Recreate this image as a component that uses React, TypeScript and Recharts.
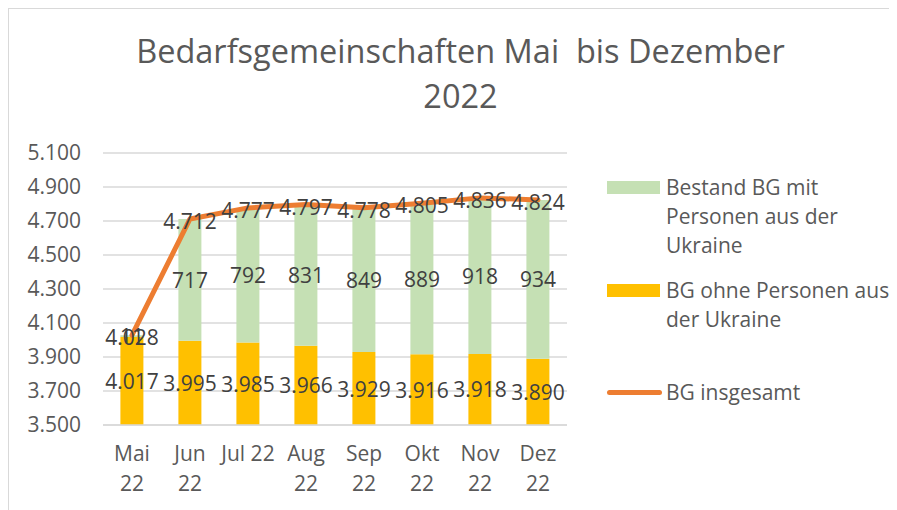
import React from "react";
import {
  ComposedChart,
  Bar,
  Line,
  XAxis,
  YAxis,
  CartesianGrid,
  LabelList,
} from "recharts";

const categories = ["Mai 22", "Jun 22", "Jul 22", "Aug 22", "Sep 22", "Okt 22", "Nov 22", "Dez 22"];
const categoryLabelLines = [["Mai", "22"], ["Jun", "22"], ["Jul 22"], ["Aug", "22"], ["Sep", "22"], ["Okt", "22"], ["Nov", "22"], ["Dez", "22"]];
const ohneUkraine = [4017, 3995, 3985, 3966, 3929, 3916, 3918, 3890];
const mitUkraine = [11, 717, 792, 831, 849, 889, 918, 934];
const insgesamt = [4028, 4712, 4777, 4797, 4778, 4805, 4836, 4824];
const yTicks = [3500, 3700, 3900, 4100, 4300, 4500, 4700, 4900, 5100];

const titleLines = ["Bedarfsgemeinschaften Mai  bis Dezember", "2022"];
const seriesNames = {
  mit: "Bestand BG mit Personen aus der Ukraine",
  ohne: "BG ohne Personen aus der Ukraine",
  total: "BG insgesamt",
};

const data = categories.map((c, i) => ({
  cat: c,
  ohne: ohneUkraine[i],
  mit: mitUkraine[i],
  total: insgesamt[i],
}));

const FONT = "'Open Sans', 'Noto Sans', sans-serif";
const GREEN = "#C5E0B4";
const YELLOW = "#FFC000";
const ORANGE = "#ED7D31";
const GRID = "#D9D9D9";
const TICK = "#595959";
const LABEL = "#404040";
const FS = 21;

const W = 888;
const H = 502;
const MARGIN = { top: 144, right: 330, bottom: 26, left: 0 };
const X_AXIS_H = 60;
const PLOT_BOTTOM = H - MARGIN.bottom - X_AXIS_H;

const fmt = (v: number) => {
  const n = Math.round(v);
  if (n < 1000) return String(n);
  return Math.floor(n / 1000) + "." + String(n % 1000).padStart(3, "0");
};

const XTick = (props: any) => {
  const { x, y, payload, index } = props;
  const lines = categoryLabelLines[index] || [payload.value];
  return (
    <g>
      {lines.map((l: string, k: number) => (
        <text
          key={k}
          x={x}
          y={y + 22 + k * 30}
          textAnchor="middle"
          dominantBaseline="middle"
          fill={TICK}
          fontSize={FS}
          fontFamily={FONT}
        >
          {l}
        </text>
      ))}
    </g>
  );
};

const BarCenterLabel = (props: any) => {
  const { x, y, width, height, value } = props;
  const top = Math.min(y, y + height);
  const bottom = Math.min(Math.max(y, y + height), PLOT_BOTTOM);
  return (
    <text
      x={x + width / 2}
      y={(top + bottom) / 2}
      textAnchor="middle"
      dominantBaseline="central"
      fill={LABEL}
      fontSize={FS}
      fontFamily={FONT}
    >
      {fmt(value)}
    </text>
  );
};

const PointLabel = (props: any) => {
  const { x, y, value } = props;
  return (
    <text
      x={x}
      y={y + 2}
      textAnchor="middle"
      dominantBaseline="central"
      fill={LABEL}
      fontSize={FS}
      fontFamily={FONT}
    >
      {fmt(value)}
    </text>
  );
};

const legendItems = [
  { key: "mit", lines: ["Bestand BG mit", "Personen aus der", "Ukraine"], type: "rect", color: GREEN, center: 178 },
  { key: "ohne", lines: ["BG ohne Personen aus", "der Ukraine"], type: "rect", color: YELLOW, center: 281 },
  { key: "total", lines: ["BG insgesamt"], type: "line", color: ORANGE, center: 383 },
];

export default function App() {
  return (
    <div
      style={{
        position: "relative",
        width: W,
        height: H,
        borderTop: `1px solid ${GRID}`,
        borderLeft: `1px solid ${GRID}`,
        fontFamily: FONT,
        background: "#fff",
      }}
    >
      <div
        style={{
          position: "absolute",
          left: 0,
          top: 19,
          width: 903,
          textAlign: "center",
          color: TICK,
          fontSize: 32.5,
          lineHeight: "45px",
          whiteSpace: "pre",
        }}
      >
        {titleLines.map((t, i) => (
          <div key={i}>{t}</div>
        ))}
      </div>
      <ComposedChart width={W} height={H} data={data} margin={MARGIN} barCategoryGap="30%">
        <CartesianGrid vertical={false} stroke={GRID} strokeWidth={1.3} />
        <XAxis
          dataKey="cat"
          height={X_AXIS_H}
          axisLine={{ stroke: GRID, strokeWidth: 1.3 }}
          tickLine={false}
          tick={<XTick />}
          interval={0}
        />
        <YAxis
          width={94}
          domain={[3500, 5100]}
          ticks={yTicks}
          allowDataOverflow
          axisLine={false}
          tickLine={false}
          tickMargin={16}
          tickFormatter={fmt}
          tick={{ fill: TICK, fontSize: FS, fontFamily: FONT }}
        />
        <Bar dataKey="ohne" name={seriesNames.ohne} stackId="a" fill={YELLOW} isAnimationActive={false}>
          <LabelList dataKey="ohne" content={<BarCenterLabel />} />
        </Bar>
        <Bar dataKey="mit" name={seriesNames.mit} stackId="a" fill={GREEN} isAnimationActive={false}>
          <LabelList dataKey="mit" content={<BarCenterLabel />} />
        </Bar>
        <Line
          dataKey="total"
          name={seriesNames.total}
          stroke={ORANGE}
          strokeWidth={5}
          dot={false}
          strokeLinejoin="round"
          strokeLinecap="round"
          isAnimationActive={false}
        >
          <LabelList dataKey="total" content={<PointLabel />} />
        </Line>
      </ComposedChart>
      {legendItems.map((it) => (
        <div
          key={it.key}
          style={{
            position: "absolute",
            left: 598,
            top: it.center - 14.5,
            display: "flex",
            alignItems: "flex-start",
          }}
        >
          <div style={{ width: 55, height: 29, position: "relative", flex: "none" }}>
            {it.type === "rect" ? (
              <div style={{ position: "absolute", left: 0, top: 8, width: 53, height: 13, background: it.color }} />
            ) : (
              <div
                style={{
                  position: "absolute",
                  left: 0,
                  top: 12,
                  width: 55,
                  height: 5,
                  borderRadius: 3,
                  background: it.color,
                }}
              />
            )}
          </div>
          <div style={{ marginLeft: 4, color: TICK, fontSize: FS, lineHeight: "29px", whiteSpace: "nowrap" }}>
            {it.lines.map((l, k) => (
              <div key={k}>{l}</div>
            ))}
          </div>
        </div>
      ))}
    </div>
  );
}
